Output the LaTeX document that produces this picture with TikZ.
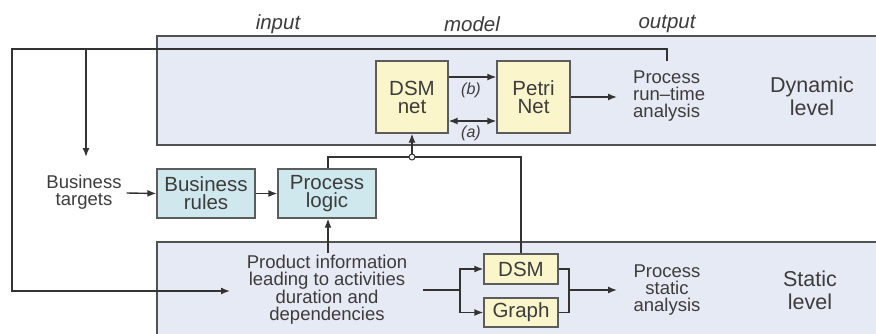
\documentclass[tikz,border=0pt]{standalone}
\usepackage{fontspec}
\setmainfont{Liberation Sans}
\usetikzlibrary{arrows.meta,calc}
\definecolor{panel}{HTML}{E6EAF5}
\definecolor{ybox}{HTML}{FBF5CC}
\definecolor{bbox}{HTML}{CFE8EE}
\definecolor{ink}{HTML}{3C3C3C}
\definecolor{wire}{HTML}{333333}
\begin{document}
\begin{tikzpicture}[x=1pt,y=-1pt,
  wire/.style={draw=wire,line width=1.4pt},
  arr/.style={wire,-{Latex[length=9pt,width=7pt]}},
  darr/.style={wire,{Latex[length=9pt,width=7pt]}-{Latex[length=9pt,width=7pt]}},
  ybx/.style={draw=wire!80,line width=1.3pt,fill=ybox,text=ink,inner sep=0pt,align=center,font=\fontsize{20.5}{18}\selectfont},
  bbx/.style={draw=wire!80,line width=1.3pt,fill=bbox,text=ink,inner sep=0pt,align=center,font=\fontsize{20.5}{18}\selectfont},
  txt/.style={text=ink,align=center,inner sep=0pt,font=\fontsize{18.5}{17}\selectfont},
  hdr/.style={text=ink,inner sep=0pt,font=\fontsize{20.5}{20}\selectfont\itshape},
  lvl/.style={text=ink,align=center,inner sep=0pt,font=\fontsize{21.5}{23}\selectfont},
  lab/.style={text=ink,inner sep=0pt,font=\fontsize{16}{16}\selectfont\itshape}]
\useasboundingbox (0,0) rectangle (876,333);
% panels
\path[fill=panel,draw=wire!85,line width=1.3pt] (157,36) rectangle (882,145);
\path[fill=panel,draw=wire!85,line width=1.3pt] (157,242) rectangle (882,340);
% headers
\node[hdr] (hin) at (278,24) {input};
\node[hdr] (hmod) at (472,24) {model};
\node[hdr] (hout) at (667,24) {output};
% dynamic level
\node[ybx,minimum width=72pt,minimum height=72pt] (dsmnet) at (412,97) {DSM\\net};
\node[ybx,minimum width=73pt,minimum height=72pt] (petri) at (533.5,97) {Petri\\Net};
\node[txt,align=left,anchor=west] (rt) at (633,96) {Process\\run–time\\analysis};
\node[lvl] (dyn) at (812,96) {Dynamic\\level};
\node[lab] (lb) at (471,90) {(b)};
\node[lab] (la) at (471,133) {(a)};
% middle
\node[txt] (bt) at (84,192) {Business\\targets};
\node[bbx,minimum width=98pt,minimum height=49pt] (br) at (206,193.5) {Business\\rules};
\node[bbx,minimum width=98pt,minimum height=49pt] (pl) at (327,193.5) {Process\\logic};
% static level
\node[txt] (pi) at (327,290) {Product information\\leading to activities\\duration and\\dependencies};
\node[ybx,minimum width=74pt,minimum height=30pt] (dsms) at (521,269) {DSM};
\node[ybx,minimum width=74pt,minimum height=29pt] (graph) at (521,312.5) {Graph};
\node[txt] (st) at (667,290) {Process\\static\\analysis};
\node[lvl] (stl) at (810,290) {Static\\level};
% coordinates
\coordinate (fbend) at (667,61);
\coordinate (fbtop) at (667,49);
\coordinate (fbl) at (12,49);
\coordinate (fbbl) at (12,291);
\coordinate (piin) at (230,291);
\coordinate (btin) at (86,157);
\coordinate (btbr) at (86,49);
\coordinate (j) at (412,157);
\coordinate (pitop) at (328,253);
\coordinate (split) at (460,290);
\coordinate (merge) at (569,290);
\coordinate (stin) at (617,290);
\coordinate (rtin) at (617,97);
\coordinate (pio) at (423,290);
% connectors
\draw[arr] (fbend) -- (fbtop) -- (fbl) -- (fbbl) -- (piin);
\draw[arr] (btbr) -- (btin);
\draw[arr] ($(bt.east)+(5,1)$) -- (br.west);
\draw[arr] (br) -- (pl);
\draw[arr] (pitop) -- (pl.south -| pitop);
\draw[wire] (pl.north -| pitop) |- (j);
\draw[wire] (dsms.north) |- (j);
\draw[arr] (j) -- (dsmnet.south);
\draw[wire,fill=panel!50!white,line width=1pt] (j) circle (3pt);
\draw[arr] ([yshift=20pt]dsmnet.east) -- ([yshift=20pt]petri.west);
\draw[darr] ([yshift=-24pt]dsmnet.east) -- ([yshift=-24pt]petri.west);
\draw[arr] (petri.east) -- (rtin);
\draw[wire] (pio) -- (split);
\draw[arr] (split) |- (dsms.west);
\draw[arr] (split) |- (graph.west);
\draw[wire] (dsms.east) -| (merge);
\draw[wire] (graph.east) -| (merge);
\draw[arr] (merge) -- (stin);
\end{tikzpicture}
\end{document}
